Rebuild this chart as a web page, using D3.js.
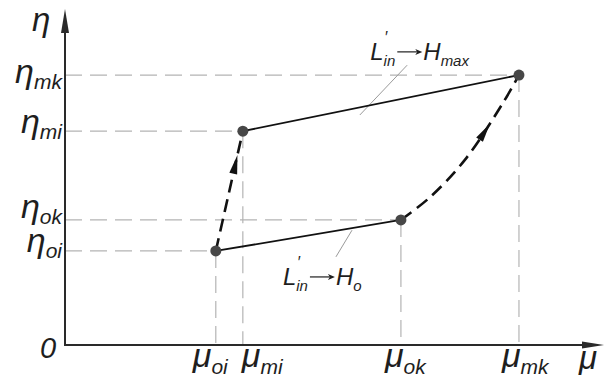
<!DOCTYPE html>
<html>
<head>
<meta charset="utf-8">
<script src="https://cdn.jsdelivr.net/npm/d3@7"></script>
<style>
  body { margin: 0; background: #fff; }
  text { font-family: "Liberation Sans", Arial, sans-serif; font-style: italic; fill: #1e1e1e; }
</style>
</head>
<body>
<div id="chart"></div>
<script>
// state points, relative units (mu along x, eta along y)
var pointNames = ["oi", "mi", "ok", "mk"];
var muValues   = [2.9, 3.42, 6.46, 8.73];
var etaValues  = [2.85, 6.48, 3.79, 8.18];

// path of the transition ok -> mk
var curveMu  = [6.46, 7.02, 7.69, 8.42, 8.73];
var curveEta = [3.79, 4.48, 5.61, 7.33, 8.18];

// the two load lines (from, to)
var solidLines = [["oi", "ok"], ["mi", "mk"]];

// annotations: text pieces and leader lines
var annoMain = ["L", "L"];
var annoSub  = ["in", "in"];
var annoH    = ["H", "H"];
var annoHSub = ["max", "o"];
var annoMu   = [5.87, 4.19];
var annoEta  = [8.64, 1.82];
var leaderMu  = [[5.67, 6.58], [5.52, 5.21]];
var leaderEta = [[6.97, 8.48], [3.48, 2.67]];

var width = 604, height = 377;

var x = d3.scaleLinear().domain([0, 10]).range([65, 585]);
var y = d3.scaleLinear().domain([0, 10]).range([345, 15]);

var svg = d3.select("#chart").append("svg")
    .attr("width", width)
    .attr("height", height);

var pts = {};
pointNames.forEach(function(n, i) { pts[n] = {mu: muValues[i], eta: etaValues[i]}; });

// gray guide lines
var guides = svg.append("g")
    .attr("stroke", "#b4b4b4")
    .attr("stroke-width", 1.2)
    .attr("stroke-dasharray", "17,8")
    .attr("fill", "none");

pointNames.forEach(function(n) {
    var p = pts[n];
    guides.append("line")
        .attr("x1", x(0)).attr("y1", y(p.eta))
        .attr("x2", x(p.mu)).attr("y2", y(p.eta));
    guides.append("line")
        .attr("x1", x(p.mu)).attr("y1", y(p.eta))
        .attr("x2", x(p.mu)).attr("y2", y(0));
});

// leader lines
leaderMu.forEach(function(m, i) {
    svg.append("line")
        .attr("x1", x(m[0])).attr("y1", y(leaderEta[i][0]))
        .attr("x2", x(m[1])).attr("y2", y(leaderEta[i][1]))
        .attr("stroke", "#9a9a9a")
        .attr("stroke-width", 1);
});

// axes
var axisColor = "#2a2a2a";
svg.append("line")
    .attr("x1", x(0)).attr("y1", y(0))
    .attr("x2", x(0)).attr("y2", 30)
    .attr("stroke", axisColor).attr("stroke-width", 2);
svg.append("path")
    .attr("d", "M" + x(0) + ",9 L" + (x(0) - 4) + ",33 L" + (x(0) + 4) + ",33 Z")
    .attr("fill", axisColor);
svg.append("line")
    .attr("x1", x(0) - 1).attr("y1", y(0))
    .attr("x2", 585).attr("y2", y(0))
    .attr("stroke", axisColor).attr("stroke-width", 2);
svg.append("path")
    .attr("d", "M604," + y(0) + " L582," + (y(0) - 3.5) + " L582," + (y(0) + 3.5) + " Z")
    .attr("fill", axisColor);

// solid load lines
solidLines.forEach(function(l) {
    svg.append("line")
        .attr("x1", x(pts[l[0]].mu)).attr("y1", y(pts[l[0]].eta))
        .attr("x2", x(pts[l[1]].mu)).attr("y2", y(pts[l[1]].eta))
        .attr("stroke", "#111")
        .attr("stroke-width", 1.8);
});

// transitions (dashed, with arrowhead)
var line = d3.line()
    .x(function(d) { return x(d[0]); })
    .y(function(d) { return y(d[1]); })
    .curve(d3.curveCatmullRom.alpha(0.5));

var transitions = [
    {data: [[pts.oi.mu, pts.oi.eta], [pts.mi.mu, pts.mi.eta]], at: 0.8},
    {data: d3.zip(curveMu, curveEta), at: 0.7}
];

transitions.forEach(function(t) {
    var path = svg.append("path")
        .attr("d", line(t.data))
        .attr("fill", "none")
        .attr("stroke", "#111")
        .attr("stroke-width", 2.6)
        .attr("stroke-dasharray", "13,7");
    var node = path.node();
    var len = node.getTotalLength();
    var tip = node.getPointAtLength(len * t.at);
    var back = node.getPointAtLength(len * t.at - 18);
    var ang = Math.atan2(tip.y - back.y, tip.x - back.x) * 180 / Math.PI;
    svg.append("path")
        .attr("d", "M0,0 L-19,-4 L-19,4 Z")
        .attr("transform", "translate(" + tip.x + "," + tip.y + ") rotate(" + ang + ")")
        .attr("fill", "#111");
});

// points
svg.selectAll(".pt")
    .data(pointNames)
    .enter()
    .append("circle")
    .attr("class", "pt")
    .attr("cx", function(n) { return x(pts[n].mu); })
    .attr("cy", function(n) { return y(pts[n].eta); })
    .attr("r", 5.5)
    .attr("fill", "#474747");

// label helper: main symbol + subscript
function symbol(sel, main, sub, size, subSize, drop) {
    sel.append("tspan").attr("font-size", size).text(main);
    sel.append("tspan").attr("font-size", subSize).attr("dy", size * drop).text(sub);
}

// eta labels on the y axis (baseline nudge per label)
var etaNudge = {oi: 1, mi: 2, ok: -2, mk: 8};
pointNames.forEach(function(n) {
    var t = svg.append("text")
        .attr("x", x(0) - 3)
        .attr("y", y(pts[n].eta) + etaNudge[n])
        .attr("text-anchor", "end");
    symbol(t, "η", n, 34, 21, 0.17);
});

// mu labels on the x axis
var muShift = {oi: -23, mi: -1, ok: -16, mk: -17};
pointNames.forEach(function(n) {
    var t = svg.append("text")
        .attr("x", x(pts[n].mu) + muShift[n])
        .attr("y", y(0) + 22);
    symbol(t, "μ", n, 34, 21, 0.2);
});

// axis names and origin
svg.append("text").attr("x", 32).attr("y", 31).attr("font-size", 33).text("η");
svg.append("text").attr("x", 579).attr("y", 369).attr("font-size", 33).text("μ");
svg.append("text").attr("x", 40).attr("y", 358).attr("font-size", 29).text("0");

// annotations: L'_in -> H_x, arrow drawn as a thin line
annoMain.forEach(function(m, i) {
    var ax = x(annoMu[i]), ay = y(annoEta[i]);
    var left = svg.append("text").attr("x", ax).attr("y", ay);
    left.append("tspan").attr("font-size", 24).text(m);
    left.append("tspan").attr("font-size", 15).attr("dy", 6).text(annoSub[i]);
    var w1 = left.node().getComputedTextLength();
    // prime above the subscript
    svg.append("text").attr("x", ax + 14).attr("y", ay - 17)
        .attr("font-size", 16).attr("font-style", "normal").text("′");

    var a0 = ax + w1 + 2, a1 = a0 + 25, amid = ay - 8;
    svg.append("line")
        .attr("x1", a0).attr("y1", amid)
        .attr("x2", a1 - 4).attr("y2", amid)
        .attr("stroke", "#1e1e1e").attr("stroke-width", 1.2);
    svg.append("path")
        .attr("d", "M" + a1 + "," + amid + " L" + (a1 - 7) + "," + (amid - 3) +
                   " L" + (a1 - 5) + "," + amid + " L" + (a1 - 7) + "," + (amid + 3) + " Z")
        .attr("fill", "#1e1e1e");

    var right = svg.append("text").attr("x", a1 + 1).attr("y", ay);
    right.append("tspan").attr("font-size", 24).text(annoH[i]);
    right.append("tspan").attr("font-size", 15).attr("dy", 6).text(annoHSub[i]);
});
</script>
</body>
</html>
